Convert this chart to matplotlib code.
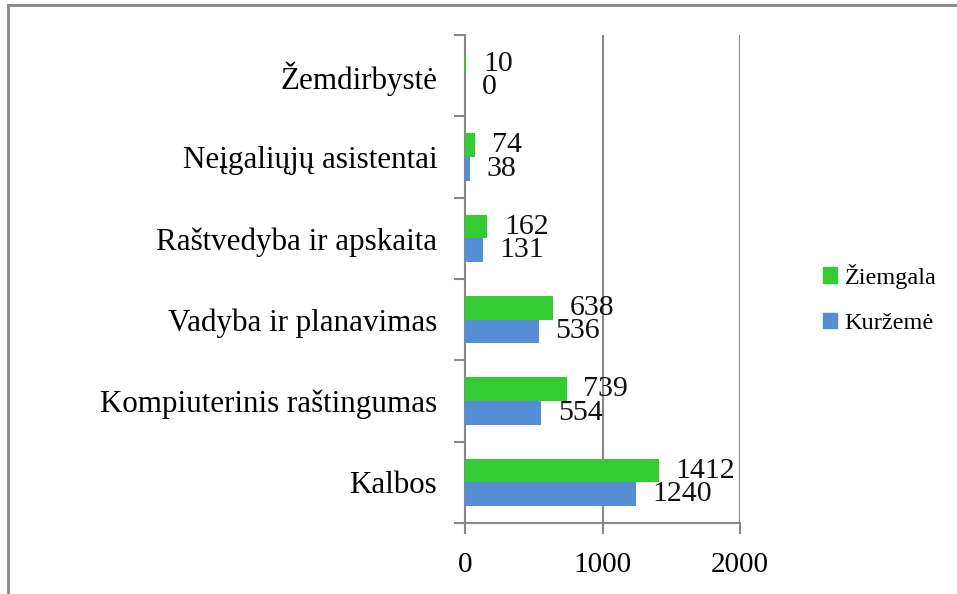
import matplotlib
matplotlib.use("Agg")
import matplotlib.pyplot as plt
from matplotlib.lines import Line2D
import numpy as np

categories = ["Kalbos", "Kompiuterinis raštingumas", "Vadyba ir planavimas",
              "Raštvedyba ir apskaita", "Neįgaliųjų asistentai", "Žemdirbystė"]
ziemgala = [1412, 739, 638, 162, 74, 10]
kurzeme = [1240, 554, 536, 131, 38, 0]
xticks = [0, 1000, 2000]

plt.rcParams['font.family'] = ['Liberation Serif', 'DejaVu Serif']

W, H = 957, 594
fig = plt.figure(figsize=(W/100, H/100), dpi=100)
ax = fig.add_axes([465/W, 1-523/H, (740-465)/W, (523-35)/H])

y = np.arange(len(categories))
h = 0.29
green = "#33CC33"
blue = "#558ED5"
ax.barh(y + h/2, ziemgala, height=h, color=green, label="Žiemgala", zorder=3)
ax.barh(y - h/2, kurzeme, height=h, color=blue, label="Kuržemė", zorder=3)

for yi, v in zip(y, ziemgala):
    ax.annotate(str(v), (v, yi + h/2), xytext=(12, 0), textcoords="offset points",
                va="center", ha="left", fontsize=21.5, color="#111111")
for yi, v in zip(y, kurzeme):
    ax.annotate(str(v), (v, yi - h/2), xytext=(12, 0), textcoords="offset points",
                va="center", ha="left", fontsize=21.5, color="#111111")

ax.set_xlim(0, 2000)
ax.set_ylim(-0.5, len(categories) - 0.5)
ax.set_xticks(xticks)
ax.set_xticklabels([str(t) for t in xticks], fontsize=21)
ax.set_yticks(np.arange(-0.5, len(categories), 1), minor=True)
ax.set_yticks(y)
ax.set_yticklabels(categories, fontsize=22.3)
ax.tick_params(axis="y", which="major", length=0, pad=20)
ax.tick_params(axis="y", which="minor", length=8, width=1.5, color="#888888")
ax.tick_params(axis="x", length=8, width=1.5, color="#888888", pad=13)
ax.grid(axis="x", color="#888888", linewidth=1.5, zorder=0)
for s in ["top", "right"]:
    ax.spines[s].set_visible(False)
for s in ["left", "bottom"]:
    ax.spines[s].set_color("#888888")
    ax.spines[s].set_linewidth(1.5)

handles = [plt.Rectangle((0, 0), 1, 1, color=green), plt.Rectangle((0, 0), 1, 1, color=blue)]
fig.legend(handles, ["Žiemgala", "Kuržemė"], loc="center left",
           bbox_to_anchor=(801/W, 1-299/H), frameon=False, fontsize=17.5,
           handlelength=0.6, handleheight=0.6, handletextpad=0.3, labelspacing=1.0)

# outer border
fig.add_artist(Line2D([8/W, 8/W], [0, 1-5/H], color="#888888", linewidth=2, transform=fig.transFigure))
fig.add_artist(Line2D([8/W, 1], [1-5/H, 1-5/H], color="#888888", linewidth=2, transform=fig.transFigure))

fig.savefig("out.png", dpi=100)
